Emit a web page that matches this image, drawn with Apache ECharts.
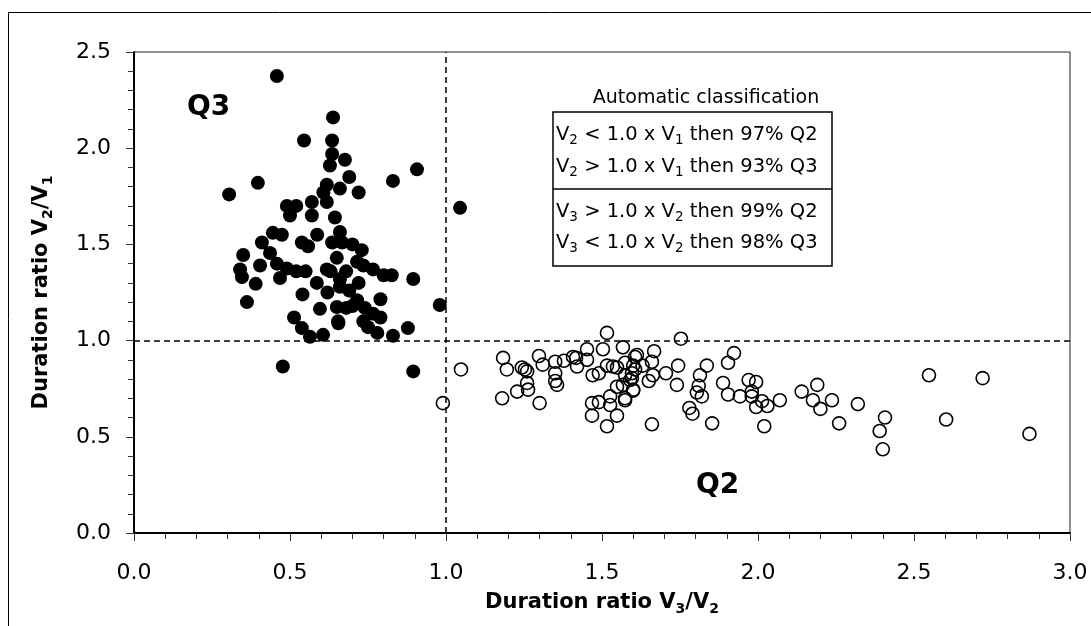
<!DOCTYPE html>
<html>
<head>
<meta charset="utf-8">
<title>Duration ratio classification</title>
<script src="https://cdn.jsdelivr.net/npm/echarts@6/dist/echarts.min.js"></script>
<style>
  html, body { margin: 0; padding: 0; background: #fff; }
  #chart { width: 1091px; height: 626px; }
</style>
</head>
<body>
<div id="chart"></div>
<script>
// Q3 points (filled), [V3/V2, V2/V1]
var q3Points = [
  [0.458, 2.375], [0.638, 2.16], [0.545, 2.04], [0.635, 2.04], [0.635, 1.97],
  [0.676, 1.94], [0.628, 1.91], [0.397, 1.82], [0.305, 1.76], [0.69, 1.85],
  [0.618, 1.81], [0.66, 1.79], [0.607, 1.77], [0.618, 1.72], [0.49, 1.70],
  [0.52, 1.70], [0.57, 1.72], [0.50, 1.65], [0.57, 1.65], [0.644, 1.64],
  [0.907, 1.89], [0.83, 1.83], [0.72, 1.77], [1.045, 1.69], [0.66, 1.565],
  [0.667, 1.51], [0.635, 1.51], [0.70, 1.50], [0.73, 1.47], [0.715, 1.41],
  [0.735, 1.39], [0.766, 1.37], [0.80, 1.34], [0.826, 1.34], [0.63, 1.36],
  [0.68, 1.36], [0.66, 1.28], [0.72, 1.30], [0.895, 1.32], [0.715, 1.21],
  [0.79, 1.215], [0.65, 1.175], [0.68, 1.17], [0.98, 1.185], [0.766, 1.14],
  [0.79, 1.12], [0.655, 1.09], [0.735, 1.10], [0.75, 1.07], [0.78, 1.04],
  [0.83, 1.025], [0.878, 1.065], [0.895, 0.84], [0.445, 1.56], [0.474, 1.55],
  [0.587, 1.55], [0.41, 1.51], [0.538, 1.51], [0.558, 1.49], [0.35, 1.445],
  [0.436, 1.455], [0.404, 1.39], [0.458, 1.40], [0.49, 1.375], [0.52, 1.36],
  [0.55, 1.36], [0.34, 1.37], [0.346, 1.33], [0.468, 1.325], [0.618, 1.37],
  [0.586, 1.30], [0.39, 1.295], [0.362, 1.20], [0.54, 1.24], [0.596, 1.165],
  [0.513, 1.12], [0.538, 1.065], [0.564, 1.02], [0.606, 1.03], [0.654, 1.10],
  [0.477, 0.865], [0.66, 1.32], [0.65, 1.43], [0.62, 1.25], [0.69, 1.26],
  [0.70, 1.18], [0.74, 1.17]
];

// Q2 points (open)
var q2Points = [
  [1.516, 1.04], [1.048, 0.85], [0.99, 0.675], [1.183, 0.91], [1.195, 0.85],
  [1.18, 0.70], [1.228, 0.735], [1.243, 0.86], [1.253, 0.85], [1.26, 0.84],
  [1.26, 0.78], [1.263, 0.745], [1.298, 0.92], [1.31, 0.875], [1.30, 0.675],
  [1.35, 0.89], [1.378, 0.895], [1.35, 0.83], [1.35, 0.79], [1.356, 0.77],
  [1.407, 0.915], [1.417, 0.91], [1.42, 0.865], [1.452, 0.955], [1.452, 0.90],
  [1.503, 0.955], [1.47, 0.82], [1.49, 0.83], [1.516, 0.87], [1.535, 0.865],
  [1.548, 0.86], [1.567, 0.965], [1.606, 0.915], [1.548, 0.76], [1.567, 0.77],
  [1.596, 0.805], [1.60, 0.745], [1.526, 0.71], [1.468, 0.675], [1.49, 0.68],
  [1.526, 0.665], [1.468, 0.61], [1.548, 0.61], [1.516, 0.555], [1.574, 0.69],
  [1.753, 1.01], [1.612, 0.925], [1.667, 0.945], [1.574, 0.885], [1.60, 0.87],
  [1.606, 0.85], [1.596, 0.83], [1.574, 0.82], [1.63, 0.87], [1.66, 0.89],
  [1.663, 0.82], [1.65, 0.79], [1.59, 0.795], [1.60, 0.74], [1.574, 0.70],
  [1.705, 0.83], [1.744, 0.87], [1.74, 0.77], [1.66, 0.565], [1.78, 0.65],
  [1.79, 0.62], [1.814, 0.82], [1.836, 0.87], [1.81, 0.765], [1.804, 0.73],
  [1.82, 0.71], [1.853, 0.57], [1.923, 0.935], [1.904, 0.885], [1.888, 0.78],
  [1.904, 0.72], [1.942, 0.71], [1.97, 0.795], [1.994, 0.785], [1.98, 0.735],
  [1.98, 0.71], [2.013, 0.685], [1.994, 0.655], [2.03, 0.66], [2.07, 0.69],
  [2.02, 0.555], [2.14, 0.735], [2.19, 0.77], [2.176, 0.69], [2.2, 0.645],
  [2.237, 0.69], [2.26, 0.57], [2.32, 0.67], [2.407, 0.60], [2.39, 0.53],
  [2.40, 0.435], [2.548, 0.82], [2.603, 0.59], [2.72, 0.805], [2.87, 0.515]
];

// threshold lines
var thresholdX = 1.0;
var thresholdY = 1.0;

// legend box text
var boxTitle = 'Automatic classification';
var boxLines = [
  'V{s|2} < 1.0 x V{s|1} then 97% Q2',
  'V{s|2} > 1.0 x V{s|1} then 93% Q3',
  'V{s|3} > 1.0 x V{s|2} then 99% Q2',
  'V{s|3} < 1.0 x V{s|2} then 98% Q3'
];

var FONT = 'DejaVu Sans';
var chart = echarts.init(document.getElementById('chart'));

var subRich = {
  s: { fontSize: 14, fontWeight: 'bold', fontFamily: FONT, lineHeight: 14, verticalAlign: 'bottom', color: '#000' }
};
var boxRich = {
  s: { fontSize: 13.5, fontFamily: FONT, lineHeight: 12, verticalAlign: 'bottom', color: '#000' }
};

var lineY = [135, 167, 212, 243];
var boxText = boxLines.map(function (t, i) {
  return {
    type: 'text',
    left: 556,
    top: lineY[i] - 12,
    z: 7,
    style: {
      text: t,
      fontSize: 19.5,
      fontFamily: FONT,
      lineHeight: 24,
      fill: '#000',
      rich: boxRich
    }
  };
});

var option = {
  backgroundColor: '#fff',
  animation: false,
  grid: {
    left: 134,
    top: 52,
    right: 21,
    bottom: 93,
    show: true,
    borderColor: '#222',
    borderWidth: 1
  },
  xAxis: {
    type: 'value',
    min: 0,
    max: 3,
    interval: 0.5,
    name: 'Duration ratio V{s|3}/V{s|2}',
    nameLocation: 'middle',
    nameGap: 57,
    nameTextStyle: {
      fontSize: 21,
      fontWeight: 'bold',
      fontFamily: FONT,
      color: '#000',
      lineHeight: 26,
      rich: subRich
    },
    axisLine: { lineStyle: { color: '#000', width: 2 } },
    axisTick: { inside: false, length: 8, lineStyle: { color: '#333', width: 1 } },
    minorTick: { show: true, splitNumber: 5, length: 6, lineStyle: { color: '#333', width: 1 } },
    splitLine: { show: false },
    axisLabel: {
      margin: 29,
      fontSize: 22,
      fontFamily: FONT,
      color: '#000',
      formatter: function (v) { return v.toFixed(1); }
    }
  },
  yAxis: {
    type: 'value',
    min: 0,
    max: 2.5,
    interval: 0.5,
    name: 'Duration ratio V{s|2}/V{s|1}',
    nameLocation: 'middle',
    nameRotate: 90,
    nameGap: 79,
    nameTextStyle: {
      fontSize: 21,
      fontWeight: 'bold',
      fontFamily: FONT,
      color: '#000',
      lineHeight: 26,
      rich: subRich
    },
    axisLine: { lineStyle: { color: '#000', width: 2 } },
    axisTick: { inside: false, length: 8, lineStyle: { color: '#333', width: 1 } },
    minorTick: { show: true, splitNumber: 5, length: 6, lineStyle: { color: '#333', width: 1 } },
    splitLine: { show: false },
    axisLabel: {
      margin: 23,
      fontSize: 22,
      fontFamily: FONT,
      color: '#000',
      formatter: function (v) { return v.toFixed(1); }
    }
  },
  graphic: [
    // outer frame, runs off the right and bottom edges
    {
      type: 'rect',
      shape: { x: 8.5, y: 12.5, width: 1200, height: 800 },
      style: { fill: 'none', stroke: '#000', lineWidth: 1 },
      silent: true,
      z: -10
    },
    {
      type: 'text',
      left: 187,
      top: 94,
      style: { text: 'Q3', fontSize: 28, fontWeight: 'bold', fontFamily: FONT, fill: '#000' }
    },
    {
      type: 'text',
      left: 696,
      top: 472,
      style: { text: 'Q2', fontSize: 28, fontWeight: 'bold', fontFamily: FONT, fill: '#000' }
    },
    {
      type: 'text',
      x: 706,
      y: 98,
      style: {
        text: boxTitle,
        fontSize: 19,
        fontFamily: FONT,
        fill: '#000',
        align: 'center',
        verticalAlign: 'middle'
      }
    },
    {
      type: 'rect',
      shape: { x: 553, y: 112, width: 279, height: 154 },
      style: { fill: '#fff', stroke: '#000', lineWidth: 1.5 },
      z: 5
    },
    {
      type: 'line',
      shape: { x1: 553, y1: 189, x2: 832, y2: 189 },
      style: { stroke: '#000', lineWidth: 1.5 },
      z: 6
    }
  ].concat(boxText),
  series: [
    {
      name: 'Q3',
      type: 'scatter',
      data: q3Points,
      symbol: 'circle',
      symbolSize: 14,
      itemStyle: { color: '#000', opacity: 1 },
      z: 3
    },
    {
      name: 'Q2',
      type: 'scatter',
      data: q2Points,
      symbol: 'circle',
      symbolSize: 13,
      itemStyle: { color: 'rgba(0,0,0,0)', borderColor: '#000', borderWidth: 1.6, opacity: 1 },
      z: 3,
      markLine: {
        silent: true,
        symbol: 'none',
        label: { show: false },
        lineStyle: { color: '#000', width: 1.5, type: [6, 4] },
        data: [
          { xAxis: thresholdX },
          { yAxis: thresholdY }
        ]
      }
    }
  ]
};

chart.setOption(option);
</script>
</body>
</html>
